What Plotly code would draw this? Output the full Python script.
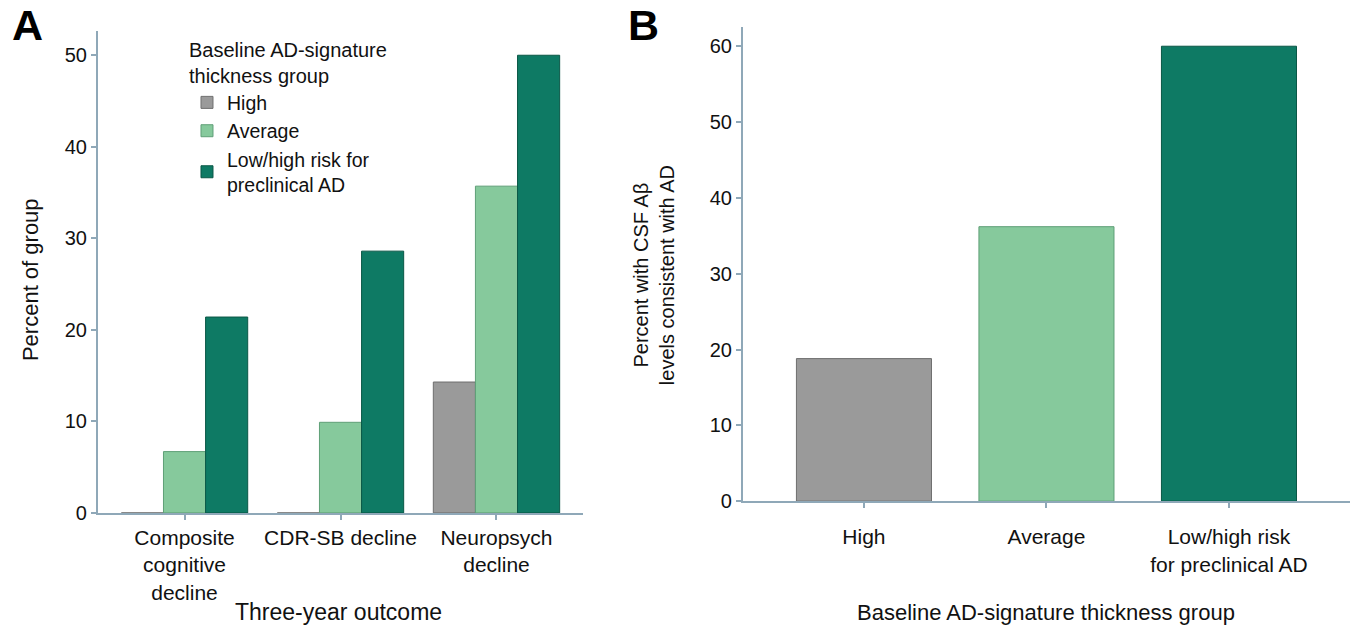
import plotly.graph_objects as go

# Panel A: three-year outcomes by baseline AD-signature thickness group
outcomes = ["Composite<br>cognitive<br>decline", "CDR-SB decline", "Neuropsych<br>decline"]
pct_high = [0.0, 0.0, 14.3]
pct_average = [6.7, 9.9, 35.7]
pct_low = [21.4, 28.6, 50.0]

# Panel B: CSF Abeta consistent with AD by thickness group
groups_b = ["High", "Average", "Low/high risk<br>for preclinical AD"]
pct_csf = [18.8, 36.2, 60.0]

C_HIGH = "#9a9a9a"
C_AVG = "#86c99c"
C_LOW = "#0e7a64"
E_HIGH = "#6f6f6f"
E_AVG = "#5f9f77"
E_LOW = "#0a5746"
AXIS_COLOR = "#8fa8b8"
FONT = "Liberation Sans, Arial, sans-serif"
INK = "#111111"

fig = go.Figure()

for name, vals, col, edge in [
    ("High", pct_high, C_HIGH, E_HIGH),
    ("Average", pct_average, C_AVG, E_AVG),
    ("Low/high risk for<br>preclinical AD", pct_low, C_LOW, E_LOW),
]:
    fig.add_trace(go.Bar(
        x=outcomes, y=vals, name=name,
        marker=dict(color=col, line=dict(color=edge, width=1)),
        xaxis="x", yaxis="y",
    ))

fig.add_trace(go.Bar(
    x=groups_b, y=pct_csf,
    marker=dict(color=[C_HIGH, C_AVG, C_LOW],
                line=dict(color=[E_HIGH, E_AVG, E_LOW], width=1)),
    width=0.74, showlegend=False,
    xaxis="x2", yaxis="y2",
))

axis_common = dict(
    showline=True, linecolor=AXIS_COLOR, linewidth=2,
    ticks="outside", tickcolor=AXIS_COLOR, ticklen=5, tickwidth=1.5,
    showgrid=False, zeroline=False,
)
y_font = dict(family=FONT, size=20, color=INK)
x_font = dict(family=FONT, size=21, color=INK)

fig.update_layout(
    width=1355, height=635,
    margin=dict(l=0, r=0, t=0, b=0),
    paper_bgcolor="white", plot_bgcolor="white",
    barmode="group", bargap=0.19, bargroupgap=0,
    font=dict(family=FONT, color=INK),
    xaxis=dict(domain=[0.0723, 0.4303], range=[-0.555, 2.555], anchor="y",
               tickfont=x_font, **axis_common),
    yaxis=dict(domain=[0.178, 0.9496], range=[0, 52.6], anchor="x",
               tickvals=[0, 10, 20, 30, 40, 50], tickfont=y_font, **axis_common),
    xaxis2=dict(domain=[0.5483, 0.9963], range=[-0.663, 2.663], anchor="y2",
                tickfont=x_font, ticklabelstandoff=11, **axis_common),
    yaxis2=dict(domain=[0.1969, 0.9575], range=[0, 62.6], anchor="x2",
                tickvals=[0, 10, 20, 30, 40, 50, 60], tickfont=y_font, **axis_common),
    legend=dict(
        x=0.138, y=0.95, xanchor="left", yanchor="top",
        bgcolor="rgba(0,0,0,0)",
        title=dict(text="Baseline AD-signature<br>thickness group",
                   font=dict(family=FONT, size=20, color=INK)),
        font=dict(family=FONT, size=19.5, color=INK),
        itemwidth=30, tracegroupgap=0,
    ),
)

# Panel letters
for letter, px in [("A", 10), ("B", 626)]:
    fig.add_annotation(
        text=f"<b>{letter}</b>", x=px / 1355, y=1 + 1 / 635,
        xref="paper", yref="paper", xanchor="left", yanchor="top",
        showarrow=False, font=dict(family=FONT, color="black", size=43),
    )

# Axis titles
def title(text, x, y, size, angle=0):
    fig.add_annotation(text=text, x=x / 1355, y=1 - y / 635,
                       xref="paper", yref="paper", xanchor="center", yanchor="middle",
                       textangle=angle, showarrow=False,
                       font=dict(family=FONT, size=size, color=INK))

title("Percent of group", 30, 285, 22, -90)
title("Three-year outcome", 338, 623, 23)
title("Percent with CSF Aβ<br>levels consistent with AD", 654, 280, 20, -90)
title("Baseline AD-signature thickness group", 1046, 623, 22)

fig.write_html("out.html")
